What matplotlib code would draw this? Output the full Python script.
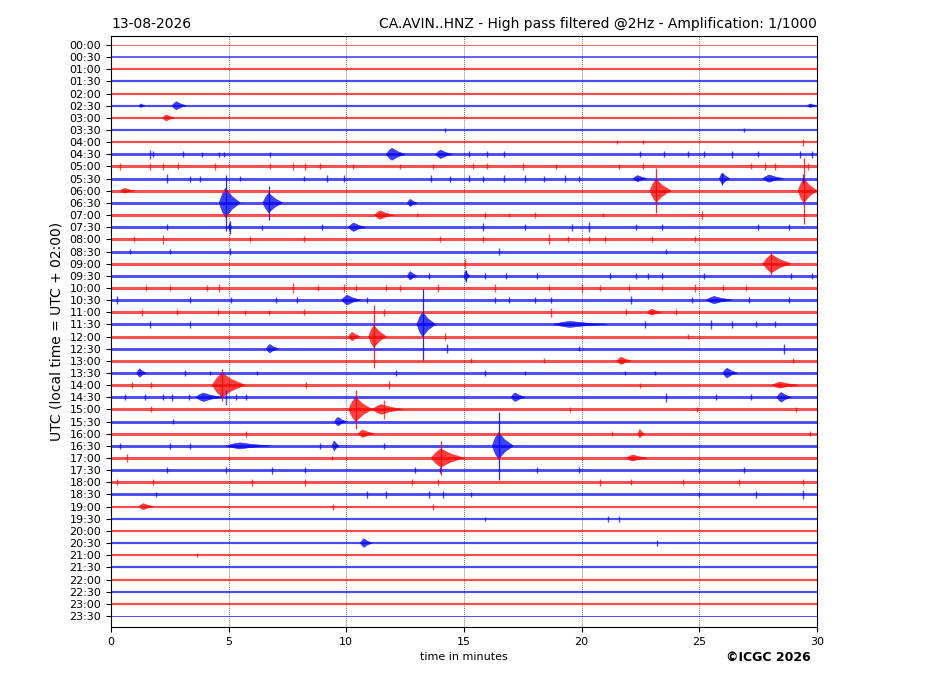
import matplotlib
matplotlib.use("Agg")
import matplotlib.pyplot as plt
import numpy as np

# helicorder rows: one per half hour, 0 = 00:00
n_rows = 48
row_labels = ["%02d:%02d" % (i // 2, 30 * (i % 2)) for i in range(n_rows)]
row_colors = ["#ff0000" if i % 2 == 0 else "#0000ff" for i in range(n_rows)]

# background noise half-width per row (in row units)
noise = ([0.03, 0.07, 0.09, 0.09, 0.09, 0.09, 0.09, 0.09, 0.09]
         + [0.12] * 29
         + [0.09] * 9
         + [0.04])

# bursts: (row, onset minute, end minute, body half-height, spike half-height)
events = [
    (5, 2.6, 3.2, 0.33, 0.0), (5, 1.2, 1.45, 0.15, 0.0), (5, 29.6, 30.0, 0.15, 0.0),
    (6, 2.2, 2.7, 0.25, 0.0),
    (9, 11.7, 12.5, 0.5, 0.0), (9, 13.8, 14.5, 0.35, 0.0),
    (11, 22.2, 22.8, 0.25, 0.0), (11, 25.85, 26.3, 0.45, 0.5), (11, 27.7, 28.6, 0.3, 0.0),
    (12, 0.4, 1.0, 0.2, 0.0), (12, 22.9, 23.8, 0.95, 1.85), (12, 29.2, 30.0, 1.0, 2.7),
    (13, 4.6, 5.5, 1.2, 2.3), (13, 6.45, 7.3, 0.8, 1.4), (13, 12.6, 13.0, 0.3, 0.0),
    (14, 11.2, 12.0, 0.35, 0.0),
    (15, 10.1, 10.8, 0.35, 0.0), (15, 5.0, 5.15, 0.3, 0.55),
    (18, 27.7, 28.9, 0.75, 0.95),
    (19, 12.6, 13.0, 0.35, 0.0), (19, 15.0, 15.25, 0.4, 0.5),
    (21, 9.8, 10.6, 0.4, 0.0), (21, 25.3, 26.4, 0.3, 0.0),
    (22, 22.8, 23.4, 0.25, 0.0),
    (23, 13.0, 13.8, 1.0, 2.9), (23, 18.8, 21.1, 0.25, 0.0),
    (24, 10.1, 10.6, 0.35, 0.0), (24, 10.95, 11.7, 0.9, 2.6),
    (25, 6.6, 7.1, 0.35, 0.0),
    (26, 21.5, 22.1, 0.3, 0.0),
    (27, 1.1, 1.5, 0.35, 0.0), (27, 26.0, 26.6, 0.4, 0.0),
    (28, 4.3, 5.7, 1.0, 1.3), (28, 28.1, 29.2, 0.25, 0.0),
    (29, 3.6, 4.7, 0.35, 0.0), (29, 17.0, 17.6, 0.35, 0.0), (29, 28.3, 28.9, 0.4, 0.0),
    (30, 10.1, 11.1, 1.0, 1.6), (30, 11.1, 12.4, 0.4, 0.0),
    (31, 9.5, 10.0, 0.35, 0.0),
    (32, 10.5, 11.2, 0.3, 0.0), (32, 22.4, 22.65, 0.35, 0.0),
    (33, 4.9, 6.8, 0.25, 0.0), (33, 9.4, 9.7, 0.4, 0.0), (33, 16.2, 17.1, 1.1, 2.8),
    (34, 13.6, 15.0, 0.75, 1.4), (34, 21.9, 22.8, 0.25, 0.0),
    (38, 1.2, 1.8, 0.25, 0.0),
    (41, 10.6, 11.1, 0.35, 0.0),
]

# short blips: (row, minute, half-height)
blips = [
    (7, 14.2, 0.2), (7, 26.9, 0.2),
    (8, 21.5, 0.15), (8, 22.6, 0.15), (8, 29.4, 0.3),
    (9, 1.66, 0.35), (9, 1.8, 0.25), (9, 3.05, 0.25), (9, 3.85, 0.2), (9, 4.6, 0.2),
    (9, 4.8, 0.2), (9, 6.76, 0.2), (9, 15.2, 0.25), (9, 16.0, 0.25), (9, 16.7, 0.25),
    (9, 22.5, 0.25), (9, 23.5, 0.25), (9, 24.5, 0.25), (9, 25.2, 0.25), (9, 26.4, 0.3),
    (9, 27.5, 0.25), (9, 29.3, 0.3), (9, 29.8, 0.3),
    (10, 0.38, 0.3), (10, 1.66, 0.3), (10, 2.2, 0.3), (10, 2.86, 0.25), (10, 4.4, 0.3),
    (10, 6.76, 0.25), (10, 7.75, 0.3), (10, 8.25, 0.3), (10, 8.9, 0.25), (10, 10.3, 0.2),
    (10, 12.3, 0.2), (10, 13.7, 0.2), (10, 15.4, 0.25), (10, 16.0, 0.25), (10, 17.5, 0.3),
    (10, 18.9, 0.2), (10, 21.6, 0.2), (10, 22.6, 0.25), (10, 27.2, 0.25), (10, 27.8, 0.3),
    (10, 28.2, 0.3), (10, 29.6, 0.3),
    (11, 2.37, 0.4), (11, 3.35, 0.25), (11, 3.78, 0.25), (11, 5.5, 0.2), (11, 8.2, 0.2),
    (11, 9.2, 0.3), (11, 9.9, 0.3), (11, 13.6, 0.3), (11, 14.4, 0.25), (11, 15.2, 0.3),
    (11, 15.8, 0.25), (11, 16.7, 0.3), (11, 17.6, 0.3), (11, 18.4, 0.25), (11, 19.3, 0.3),
    (11, 19.9, 0.25), (11, 29.4, 0.35),
    (14, 13.0, 0.2), (14, 15.9, 0.25), (14, 16.9, 0.2), (14, 18.0, 0.25), (14, 20.9, 0.2),
    (14, 25.1, 0.3),
    (15, 2.4, 0.25), (15, 6.4, 0.2), (15, 8.95, 0.25), (15, 15.8, 0.35), (15, 17.6, 0.25),
    (15, 19.6, 0.3), (15, 20.3, 0.4), (15, 22.3, 0.25), (15, 23.4, 0.25), (15, 27.5, 0.25),
    (15, 28.8, 0.25),
    (16, 1.0, 0.25), (16, 2.2, 0.35), (16, 5.9, 0.25), (16, 8.2, 0.25), (16, 14.0, 0.25),
    (16, 15.8, 0.25), (16, 18.6, 0.4), (16, 19.4, 0.25), (16, 20.3, 0.25), (16, 21.0, 0.25),
    (16, 23.0, 0.25), (16, 24.8, 0.25),
    (17, 0.8, 0.2), (17, 2.5, 0.2), (17, 5.06, 0.3), (17, 16.5, 0.25), (17, 23.6, 0.2),
    (18, 15.05, 0.35),
    (19, 13.5, 0.25), (19, 15.9, 0.25), (19, 16.8, 0.25), (19, 18.1, 0.25), (19, 21.2, 0.25),
    (19, 22.3, 0.25), (19, 22.8, 0.25), (19, 23.4, 0.25), (19, 25.2, 0.25), (19, 28.9, 0.25),
    (19, 29.8, 0.25),
    (20, 1.5, 0.25), (20, 2.5, 0.25), (20, 4.1, 0.25), (20, 4.6, 0.35), (20, 7.75, 0.4),
    (20, 8.8, 0.25), (20, 9.9, 0.3), (20, 10.4, 0.25), (20, 11.7, 0.25), (20, 12.3, 0.25),
    (20, 13.9, 0.35), (20, 16.3, 0.3), (20, 18.6, 0.25), (20, 20.0, 0.3), (20, 20.8, 0.25),
    (20, 22.0, 0.25), (20, 23.4, 0.25), (20, 24.8, 0.3), (20, 26.0, 0.25), (20, 27.0, 0.25),
    (21, 0.25, 0.3), (21, 3.35, 0.25), (21, 5.1, 0.25), (21, 7.0, 0.25), (21, 7.9, 0.25),
    (21, 10.9, 0.25), (21, 16.3, 0.25), (21, 16.9, 0.25), (21, 18.0, 0.25), (21, 18.7, 0.25),
    (21, 22.1, 0.3), (21, 24.7, 0.25), (21, 27.1, 0.25), (21, 28.8, 0.25),
    (22, 1.3, 0.3), (22, 2.8, 0.25), (22, 4.56, 0.25), (22, 5.7, 0.2), (22, 6.7, 0.2),
    (22, 8.2, 0.25), (22, 11.6, 0.3), (22, 18.7, 0.35), (22, 21.9, 0.25), (22, 24.0, 0.25),
    (23, 1.66, 0.3), (23, 3.35, 0.3), (23, 22.7, 0.3), (23, 25.5, 0.4), (23, 26.4, 0.3),
    (23, 27.4, 0.25), (23, 28.2, 0.25),
    (24, 14.2, 0.3), (24, 24.5, 0.2),
    (25, 14.3, 0.35), (25, 19.9, 0.2), (25, 28.6, 0.4),
    (26, 15.3, 0.2), (26, 18.4, 0.2), (26, 29.0, 0.2),
    (27, 3.15, 0.25), (27, 4.2, 0.2), (27, 6.2, 0.2), (27, 12.1, 0.25), (27, 15.9, 0.25),
    (27, 17.6, 0.2), (27, 21.85, 0.2), (27, 23.1, 0.2),
    (28, 0.9, 0.25), (28, 1.7, 0.25), (28, 8.3, 0.25), (28, 11.8, 0.3), (28, 22.5, 0.2),
    (29, 0.6, 0.25), (29, 1.45, 0.25), (29, 2.2, 0.25), (29, 2.6, 0.3), (29, 3.3, 0.25),
    (29, 4.9, 0.6), (29, 5.3, 0.25), (29, 5.75, 0.25), (29, 23.6, 0.35), (29, 25.7, 0.25),
    (29, 27.2, 0.25),
    (30, 1.7, 0.25), (30, 11.6, 0.8), (30, 19.5, 0.2), (30, 24.9, 0.2), (30, 29.1, 0.2),
    (31, 2.65, 0.2),
    (32, 5.75, 0.25), (32, 21.3, 0.2), (32, 29.7, 0.2),
    (33, 0.38, 0.25), (33, 2.5, 0.25), (33, 3.35, 0.25), (33, 8.9, 0.25), (33, 11.6, 0.25),
    (34, 0.7, 0.35), (34, 9.4, 0.2),
    (35, 2.37, 0.25), (35, 4.9, 0.25), (35, 6.85, 0.3), (35, 8.25, 0.25), (35, 12.9, 0.25),
    (35, 14.0, 0.25), (35, 18.1, 0.25), (35, 19.9, 0.25), (35, 25.0, 0.2), (35, 26.9, 0.25),
    (36, 0.25, 0.25), (36, 1.8, 0.25), (36, 6.0, 0.3), (36, 8.25, 0.3), (36, 12.8, 0.25),
    (36, 13.9, 0.25), (36, 20.8, 0.3), (36, 22.1, 0.25), (36, 24.3, 0.25), (36, 26.7, 0.25),
    (36, 29.4, 0.25),
    (37, 1.9, 0.2), (37, 10.9, 0.25), (37, 11.7, 0.25), (37, 13.5, 0.25), (37, 14.1, 0.25),
    (37, 15.3, 0.2), (37, 25.0, 0.2), (37, 27.4, 0.25), (37, 29.4, 0.4),
    (38, 9.45, 0.25), (38, 13.7, 0.25),
    (39, 15.9, 0.15), (39, 21.1, 0.25), (39, 21.6, 0.25),
    (41, 23.2, 0.25),
    (42, 3.66, 0.15),
]

fig = plt.figure(figsize=(9.27, 6.96), dpi=100)
ax = fig.add_axes([0.1197, 0.0991, 0.7616, 0.8492])

for x in [5, 10, 15, 20, 25]:
    ax.axvline(x, color="#444444", ls=(0, (1, 1.5)), lw=0.6, zorder=0)

# one row spacing is about 12.15 px; line width in points from the noise band
px_per_row = 12.15
for i in range(n_rows):
    lw = max(2 * noise[i] * px_per_row * 0.72, 0.6)
    ax.plot([0, 30], [i, i], color=row_colors[i], lw=lw, alpha=0.7,
            solid_capstyle="butt")

for row, t0, t1, amp, spike in events:
    c = row_colors[row]
    d = t1 - t0
    tp = t0 + 0.3 * d
    # spindle: fast rise, slower decay
    xs = [t0, t0 + 0.15 * d, tp, t0 + 0.6 * d, t1, t0 + 0.6 * d, tp, t0 + 0.15 * d]
    ys = [row, row - 0.6 * amp, row - amp, row - 0.45 * amp, row,
          row + 0.45 * amp, row + amp, row + 0.6 * amp]
    ax.fill(xs, ys, color=c, alpha=0.75, lw=0.4)
    if spike > 0:
        ax.vlines(tp, row - spike, row + spike, color=c, lw=0.9, alpha=0.85)

for row, t, amp in blips:
    ax.vlines(t, row - amp, row + amp, color=row_colors[row], lw=1.0, alpha=0.7)

ax.set_xlim(0, 30)
ax.set_ylim(47.91, -0.74)
ax.set_xticks([0, 5, 10, 15, 20, 25, 30])
ax.set_yticks(range(n_rows))
ax.set_yticklabels(row_labels)
ax.tick_params(axis="both", labelsize=8)

ax.set_xlabel("time in minutes", fontsize=8)
ax.set_ylabel("UTC (local time = UTC + 02:00)", fontsize=10)
ax.set_title("13-08-2026", loc="left", fontsize=10)
ax.set_title("CA.AVIN..HNZ - High pass filtered @2Hz - Amplification: 1/1000", loc="right", fontsize=10)
fig.text(0.875, 0.0546, "\u00a9ICGC 2026", ha="right", va="center", fontsize=9, weight="bold")

fig.savefig("out.png", dpi=100)
